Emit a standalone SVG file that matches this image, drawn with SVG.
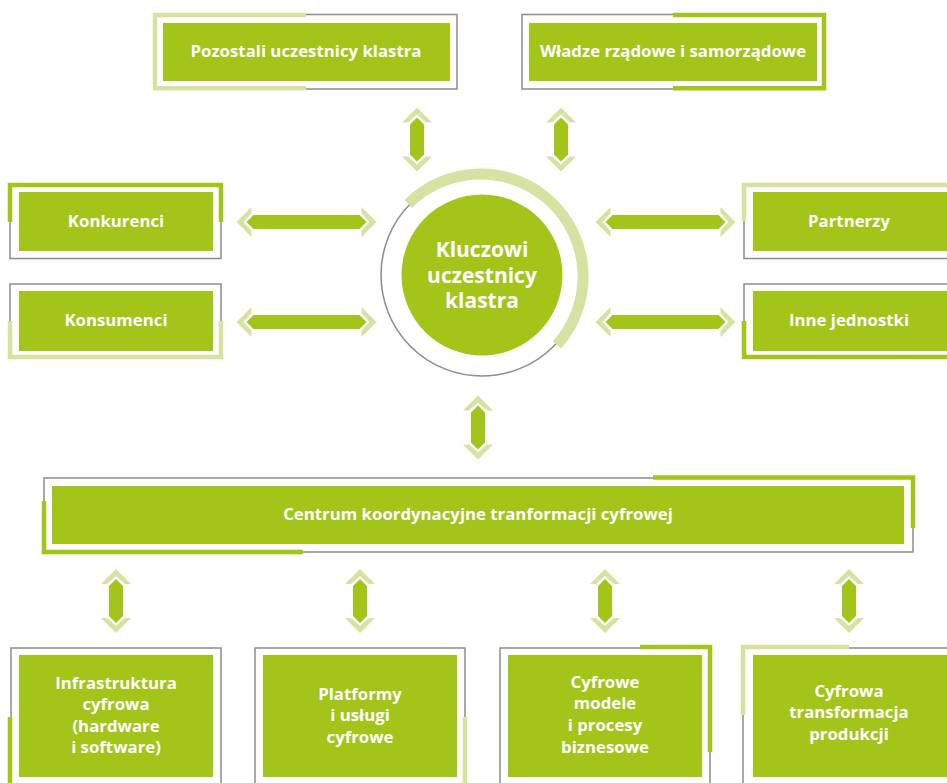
<svg xmlns="http://www.w3.org/2000/svg" width="947" height="783" viewBox="0 0 947 783">
<style>
.fill{fill:#A3C51A}
.frame{fill:none;stroke:#8C8C8C;stroke-width:1.5}
.dark{fill:none;stroke:#A3C51A;stroke-width:4.5}
.light{fill:none;stroke:#D6E2A1;stroke-width:4.5}
text{font-family:"Open Sans","Liberation Sans",sans-serif;font-weight:700;fill:#FFFFFF;text-anchor:middle}
.t16{font-size:16.8px}
.t21{font-size:21px}
</style>
<defs>
<g id="varrow">
<polygon fill="#D6E2A1" points="0,-32 15,-17 9,-17 0,-25 -9,-17 -15,-17"/>
<polygon fill="#D6E2A1" points="0,32 15,17 9,17 0,25 -9,17 -15,17"/>
<polygon fill="#A3C51A" points="0,-22 7,-15 7,15 0,22 -7,15 -7,-15"/>
</g>
<g id="harrow">
<polygon fill="#D6E2A1" points="-70,0 -55,-15 -55,-9 -63,0 -55,9 -55,15"/>
<polygon fill="#D6E2A1" points="70,0 55,-15 55,-9 63,0 55,9 55,15"/>
<polygon fill="#A3C51A" points="-60,0 -53,-7 53,-7 60,0 53,7 -53,7"/>
</g>
</defs>

<g id="connectors">
<use href="#varrow" transform="translate(417,139.5)"/>
<use href="#varrow" transform="translate(561,139.5)"/>
<use href="#harrow" transform="translate(306.5,222)"/>
<use href="#harrow" transform="translate(306.5,322)"/>
<use href="#harrow" transform="translate(665.5,222)"/>
<use href="#harrow" transform="translate(665.5,322)"/>
<use href="#varrow" transform="translate(478,427.5)"/>
<use href="#varrow" transform="translate(116,601)"/>
<use href="#varrow" transform="translate(360,601)"/>
<use href="#varrow" transform="translate(605,601)"/>
<use href="#varrow" transform="translate(849,601)"/>
</g>

<g id="center">
<circle cx="482" cy="275" r="101" fill="none" stroke="#8C8C8C" stroke-width="1.5"/>
<path d="M408.3,203.8 A102.5,102.5 0 0 1 556.9,344.9" fill="none" stroke="#D6E2A1" stroke-width="11"/>
<circle cx="482" cy="275" r="80.5" class="fill"/>
<text class="t21" x="482" y="257">Kluczowi</text>
<text class="t21" x="482" y="283">uczestnicy</text>
<text class="t21" x="482" y="308">klastra</text>
</g>

<g id="pozostali">
<rect class="frame" x="155" y="14.5" width="302" height="74.5"/>
<path class="light" d="M306,15 H155 V88.3 H306"/>
<rect class="fill" x="163" y="23" width="287" height="58"/>
<text class="t16" x="306" y="57">Pozostali uczestnicy klastra</text>
</g>

<g id="wladze">
<rect class="frame" x="522" y="14.5" width="302" height="74.5"/>
<path class="dark" d="M673,15 H824 V88.3 H673"/>
<rect class="fill" x="529" y="23" width="288" height="58"/>
<text class="t16" x="673" y="57">Władze rządowe i samorządowe</text>
</g>

<g id="konkurenci">
<rect class="frame" x="10" y="185" width="211" height="73.5"/>
<path class="dark" d="M10,222 V185 H221 V222"/>
<rect class="fill" x="19" y="192" width="194" height="59"/>
<text class="t16" x="116" y="227">Konkurenci</text>
</g>

<g id="konsumenci">
<rect class="frame" x="10" y="284" width="211" height="73"/>
<path class="light" d="M10,321 V357 H221 V321"/>
<rect class="fill" x="19" y="291" width="194" height="60"/>
<text class="t16" x="116" y="326">Konsumenci</text>
</g>

<g id="partnerzy">
<rect class="frame" x="744" y="185" width="220" height="73.5"/>
<path class="light" d="M744,221 V185 H964"/>
<rect class="fill" x="753" y="192" width="210" height="59"/>
<text class="t16" x="849" y="227">Partnerzy</text>
</g>

<g id="inne">
<rect class="frame" x="744" y="284" width="220" height="73"/>
<path class="dark" d="M744,321 V357 H964"/>
<rect class="fill" x="753" y="291" width="210" height="60"/>
<text class="t16" x="849" y="326">Inne jednostki</text>
</g>

<g id="centrum">
<rect class="frame" x="44" y="478" width="869" height="74"/>
<path class="dark" d="M44,501 V552 H303"/>
<path class="dark" d="M653,477.5 H913 V528"/>
<rect class="fill" x="52" y="486" width="852" height="58"/>
<text class="t16" x="478" y="520">Centrum koordynacyjne tranformacji cyfrowej</text>
</g>

<g id="infrastruktura">
<rect class="frame" x="11" y="648" width="210" height="160"/>
<path class="dark" d="M10,717 V790"/>
<rect class="fill" x="19" y="655" width="194" height="122"/>
<text class="t16" x="116" y="689">Infrastruktura</text>
<text class="t16" x="116" y="710">cyfrowa</text>
<text class="t16" x="116" y="732">(hardware</text>
<text class="t16" x="116" y="753">i software)</text>
</g>

<g id="platformy">
<rect class="frame" x="255" y="648" width="210" height="160"/>
<path class="light" d="M465,717 V790"/>
<rect class="fill" x="263" y="655" width="194" height="122"/>
<text class="t16" x="360" y="700">Platformy</text>
<text class="t16" x="360" y="721">i usługi</text>
<text class="t16" x="360" y="743">cyfrowe</text>
</g>

<g id="modele">
<rect class="frame" x="500" y="648" width="210" height="160"/>
<path class="dark" d="M640,647 H710 V752"/>
<rect class="fill" x="508" y="655" width="194" height="122"/>
<text class="t16" x="605" y="688">Cyfrowe</text>
<text class="t16" x="605" y="709">modele</text>
<text class="t16" x="605" y="731">i procesy</text>
<text class="t16" x="605" y="753">biznesowe</text>
</g>

<g id="produkcja">
<rect class="frame" x="743" y="648" width="220" height="160"/>
<path class="light" d="M849,647 H743 V715"/>
<rect class="fill" x="753" y="655" width="210" height="122"/>
<text class="t16" x="849" y="697">Cyfrowa</text>
<text class="t16" x="849" y="718">transformacja</text>
<text class="t16" x="849" y="740">produkcji</text>
</g>
</svg>
